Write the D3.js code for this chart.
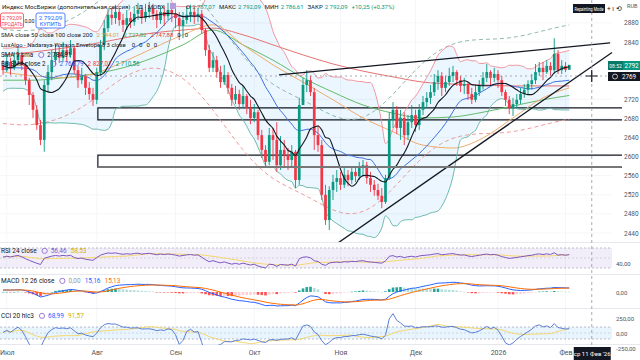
<!DOCTYPE html>
<html><head><meta charset="utf-8">
<script src="https://cdn.jsdelivr.net/npm/d3@7"></script>
<style>html,body{margin:0;padding:0;background:#fff;overflow:hidden}svg{display:block;font-family:Roboto,"Noto Sans",sans-serif}</style>
</head><body><svg id="c" width="640" height="360"></svg>
<script>
// ---------- DATA ----------
const warmupCloses = [2760,2740,2755,2730,2715,2740,2765,2750,2735,2725,
2720,2745,2770,2790,2810,2800,2775,2750,2735,2760,2785,2805,2820,2800,2780,2760,2775,2795,2810,2790];
const firstOpen = 2790;
const closes = [2781,2798,2786,2802,2813,2792,2760,2729,2698,2666,
2635,2750,2777,2802,2819,2807,2823,2813,2827,2781,
2760,2769,2744,2731,2719,2777,2834,2869,2897,2890,
2903,2886,2876,2890,2882,2899,2907,2890,2903,2911,
2899,2886,2903,2894,2907,2899,2890,2874,2886,2897,
2903,2894,2899,2865,2823,2786,2802,2777,2756,2771,
2744,2719,2731,2710,2727,2702,2681,2693,2645,2614,
2589,2645,2635,2582,2614,2603,2593,2610,2551,2708,
2750,2760,2735,2645,2624,2520,2467,2530,2547,2555,
2541,2562,2551,2568,2559,2576,2582,2555,2541,2530,
2518,2505,2555,2677,2698,2660,2681,2645,2672,2687,
2666,2698,2714,2723,2735,2756,2769,2744,2756,2769,
2777,2760,2748,2752,2731,2719,2735,2748,2765,2777,
2765,2773,2760,2735,2719,2702,2710,2719,2731,2740,
2752,2760,2777,2786,2777,2790,2781,2815,2781,2790,
2781.84,2792.09];
const highs = [2802,2813,2807,2819,2827,2819,2798,2765,2735,2708,
2677,2760,2792,2823,2836,2832,2840,2834,2844,2832,
2790,2786,2773,2756,2744,2786,2844,2886,2911,2911,
2918,2911,2899,2907,2903,2915,2922,2915,2920,2924,
2920,2907,2915,2915,2922,2918,2911,2903,2903,2915,
2918,2915,2911,2907,2869,2834,2819,2811,2790,2792,
2777,2752,2748,2740,2748,2731,2719,2710,2698,2656,
2624,2660,2660,2672,2643,2635,2618,2624,2614,2723,
2765,2781,2769,2744,2666,2635,2541,2538,2562,2572,
2568,2576,2572,2576,2576,2589,2593,2589,2568,2551,
2543,2534,2562,2693,2714,2706,2698,2693,2687,2708,
2698,2710,2727,2735,2750,2773,2781,2777,2769,2786,
2790,2781,2769,2765,2756,2744,2748,2760,2777,2794,
2781,2786,2781,2769,2740,2727,2723,2731,2744,2752,
2760,2773,2794,2798,2798,2802,2798,2848,2823,2802,
2798,2792.09];
const lows = [2771,2777,2771,2781,2792,2781,2750,2708,2681,2656,
2624,2610,2735,2760,2792,2796,2798,2798,2807,2773,
2744,2752,2729,2719,2706,2710,2769,2823,2861,2876,
2878,2874,2861,2865,2869,2874,2886,2878,2882,2890,
2886,2869,2878,2874,2886,2882,2869,2844,2848,2878,
2882,2878,2882,2857,2811,2777,2777,2765,2744,2750,
2731,2706,2710,2698,2702,2689,2668,2672,2635,2597,
2576,2582,2593,2568,2572,2576,2572,2580,2534,2541,
2708,2735,2727,2614,2610,2509,2457,2446,2509,2526,
2530,2534,2538,2543,2547,2551,2559,2543,2526,2518,
2509,2492,2501,2551,2660,2647,2635,2624,2635,2660,
2652,2656,2687,2702,2710,2727,2740,2727,2735,2748,
2756,2748,2735,2731,2719,2710,2714,2727,2740,2756,
2748,2756,2744,2727,2706,2689,2685,2702,2710,2723,
2731,2740,2752,2769,2760,2773,2769,2773,2773,2773,
2777,2786.61];

// long moving averages (sampled at bar indices)
const maIdx = [0,8,16,24,32,40,48,56,64,72,80,88,96,104,112,120,128,136,144,151];
const ma50  = [2777,2769,2765,2773,2798,2827,2855,2876,2834,2792,2756,2719,2681,2652,2624,2618,2639,2681,2723,2744];
const ma100 = [2760,2760,2765,2773,2786,2807,2834,2865,2834,2802,2765,2735,2708,2691,2681,2683,2693,2706,2719,2728];
const ma200 = [2813,2819,2827,2836,2848,2859,2865,2869,2855,2834,2813,2794,2779,2767,2756,2752,2750,2748,2748,2748];

const monthTicks  = [1,25,46,67,90,110,132,150];
const monthLabels = ["Июл","Авг","Сен","Окт","Ноя","Дек","2026","Фев"];
const priceTicks  = [2440,2480,2520,2560,2600,2640,2680,2720,2840,2880];
const zoneStart = 25.3;
const zones = [[2702,2677],[2603,2578]];
const trendUpper = [[73.6,2771],[161.9,2838]];
const trendLower = [[89.3,2419],[162.4,2818]];
const crossIdx = 157;
const crossPrice = 2768.79;

// ---------- SETUP ----------
const svg = d3.select("#c");
const n = closes.length;
const W = warmupCloses.length;
const allC = warmupCloses.concat(closes);
const opens = closes.map((c,i)=> i===0 ? firstOpen : closes[i-1]);
const xs = d3.scaleLinear().domain([0,160]).range([3,603]);
const ys = d3.scaleLinear().domain([2440,2840]).range([233,42]);
const FS = 7;
const UP = "#089981", DN = "#F23645";

const defs = svg.append("defs");
defs.append("clipPath").attr("id","mainClip").append("rect").attr("x",0).attr("y",0).attr("width",622).attr("height",242);
defs.append("clipPath").attr("id","rsiClip").append("rect").attr("x",0).attr("y",243).attr("width",612).attr("height",31);
defs.append("clipPath").attr("id","macdClip").append("rect").attr("x",0).attr("y",275).attr("width",612).attr("height",33);
defs.append("clipPath").attr("id","cciClip").append("rect").attr("x",0).attr("y",309).attr("width",612).attr("height",36);

// grid
const grid = svg.append("g");
grid.selectAll("line.v").data(monthTicks).enter().append("line")
  .attr("x1",d=>xs(d)).attr("x2",d=>xs(d)).attr("y1",0).attr("y2",345).attr("stroke","#f5f6f9");
grid.selectAll("line.h").data(priceTicks).enter().append("line")
  .attr("x1",0).attr("x2",612).attr("y1",d=>ys(d)).attr("y2",d=>ys(d)).attr("stroke","#f5f6f9");
[242.5,274.5,308.5,344.5].forEach(y=>svg.append("line").attr("x1",0).attr("x2",640).attr("y1",y).attr("y2",y).attr("stroke","#e6e8ee"));

// ---------- INDICATORS ----------
function smaAt(arr,len,j){ let s=0,c=0; for(let k=Math.max(0,j-len+1);k<=j;k++){s+=arr[k];c++;} return s/c; }
const sma9 = closes.map((_,i)=>smaAt(allC,9,W+i));
const bb = closes.map((_,i)=>{
  const j=W+i, m=smaAt(allC,20,j); let v=0;
  for(let k=j-19;k<=j;k++) v+=(allC[k]-m)**2;
  const sd=Math.sqrt(v/20); return {m, u:m+2*sd, l:m-2*sd};
});
const nwe = closes.map((_,i)=>{ let s=0,sw=0; for(let j=0;j<n;j++){const w=Math.exp(-((i-j)**2)/(2*64)); s+=closes[j]*w; sw+=w;} return s/sw; });
let mae=0; closes.forEach((c,i)=>mae+=Math.abs(c-nwe[i])); mae = mae/n*3;

function rsiSeries(arr,len){
  const out=new Array(arr.length).fill(null); let ag=0,al=0;
  for(let k=1;k<arr.length;k++){
    const ch=arr[k]-arr[k-1], g=Math.max(ch,0), l=Math.max(-ch,0);
    if(k<=len){ ag+=g/len; al+=l/len; if(k===len) out[k]=100-100/(1+ag/(al||1e-9)); }
    else { ag=(ag*(len-1)+g)/len; al=(al*(len-1)+l)/len; out[k]=100-100/(1+ag/(al||1e-9)); }
  }
  return out;
}
const rsiAll = rsiSeries(allC,24);
const rsi = closes.map((_,i)=>rsiAll[W+i]);
const rsiMa = rsi.map((_,i)=>d3.mean(rsi.slice(Math.max(0,i-13),i+1)));
function ema(arr,len){ const k=2/(len+1); const o=[]; arr.forEach((v,i)=>o.push(i===0?v:v*k+o[i-1]*(1-k))); return o; }
const e12=ema(allC,12), e26=ema(allC,26);
const macdAll=e12.map((v,i)=>v-e26[i]); const sigAll=ema(macdAll,9);
const macd=closes.map((_,i)=>macdAll[W+i]), sig=closes.map((_,i)=>sigAll[W+i]);
const hist=macd.map((v,i)=>v-sig[i]);
const tpAll = warmupCloses.concat(closes.map((c,i)=>(highs[i]+lows[i]+c)/3));
const cci = closes.map((_,i)=>{ const j=W+i; const m=smaAt(tpAll,20,j); let md=0; for(let k=j-19;k<=j;k++) md+=Math.abs(tpAll[k]-m); md/=20; return (tpAll[j]-m)/(0.015*md); });
const cciMa = cci.map((_,i)=>d3.mean(cci.slice(Math.max(0,i-13),i+1)));

// ---------- MAIN PANE ----------
const main = svg.append("g").attr("clip-path","url(#mainClip)");
main.append("path").datum(bb).attr("fill","rgba(33,150,243,0.09)")
  .attr("d",d3.area().x((d,i)=>xs(i)).y0(d=>ys(d.l)).y1(d=>ys(d.u)).curve(d3.curveMonotoneX));
zones.forEach(z=>{
  const x0=xs(zoneStart);
  main.append("path").attr("fill","none").attr("stroke","#131722").attr("stroke-width",1.2)
    .attr("d",`M622,${ys(z[0])}H${x0}V${ys(z[1])}H622`);
});
svg.append("line").attr("x1",xs(zoneStart)).attr("x2",621).attr("y1",ys(zones[1][1])).attr("y2",ys(zones[1][1])).attr("stroke","#777").attr("stroke-width",2);
const lineI = (acc)=>d3.line().x((d,i)=>xs(i)).y(d=>ys(acc(d))).curve(d3.curveMonotoneX);
main.append("path").datum(nwe).attr("fill","none").attr("stroke","#8fb9a8").attr("stroke-width",1).attr("stroke-dasharray","4,3").attr("d",lineI(d=>d+mae));
main.append("path").datum(nwe).attr("fill","none").attr("stroke","#ef9a9a").attr("stroke-width",1).attr("stroke-dasharray","4,3").attr("d",lineI(d=>d-mae));
const sampled = (arr)=>arr.map((v,k)=>[maIdx[k],v]);
const lineS = d3.line().x(d=>xs(d[0])).y(d=>ys(d[1])).curve(d3.curveMonotoneX);
main.append("path").datum(sampled(ma200)).attr("fill","none").attr("stroke","#e57373").attr("stroke-width",1).attr("d",lineS);
main.append("path").datum(sampled(ma100)).attr("fill","none").attr("stroke","#66bb6a").attr("stroke-width",1).attr("d",lineS);
main.append("path").datum(sampled(ma50)).attr("fill","none").attr("stroke","#f0ad6e").attr("stroke-width",1).attr("d",lineS);
main.append("path").datum(bb).attr("fill","none").attr("stroke","#f28b96").attr("stroke-width",0.9).attr("d",lineI(d=>d.u));
main.append("path").datum(bb).attr("fill","none").attr("stroke","#5fb3a3").attr("stroke-width",0.9).attr("d",lineI(d=>d.l));
main.append("path").datum(bb).attr("fill","none").attr("stroke","#3f6fe0").attr("stroke-width",1).attr("d",lineI(d=>d.m));
const cg = main.append("g");
closes.forEach((c,i)=>{
  const o=opens[i], h=Math.max(highs[i],o,c), l=Math.min(lows[i],o,c), col=c>=o?UP:DN, x=xs(i);
  cg.append("line").attr("x1",x).attr("x2",x).attr("y1",ys(h)).attr("y2",ys(l)).attr("stroke",col).attr("stroke-width",0.9);
  const yt=ys(Math.max(o,c)), yb=ys(Math.min(o,c));
  cg.append("rect").attr("x",x-1.35).attr("width",2.7).attr("y",yt).attr("height",Math.max(0.8,yb-yt)).attr("fill",col);
});
main.append("path").datum(sma9).attr("fill","none").attr("stroke","#131722").attr("stroke-width",1.1).attr("d",lineI(d=>d));
[trendUpper,trendLower].forEach(t=>{
  main.append("line").attr("x1",xs(t[0][0])).attr("y1",ys(t[0][1])).attr("x2",xs(t[1][0])).attr("y2",ys(t[1][1]))
    .attr("stroke","#131722").attr("stroke-width",1.3);
});

// crosshair
svg.append("line").attr("x1",xs(crossIdx)).attr("x2",xs(crossIdx)).attr("y1",0).attr("y2",346).attr("stroke","#9598a1").attr("stroke-dasharray","3,3").attr("stroke-width",0.8);
svg.append("line").attr("x1",0).attr("x2",608).attr("y1",ys(crossPrice)).attr("y2",ys(crossPrice)).attr("stroke","#9598a1").attr("stroke-dasharray","2,3").attr("stroke-width",0.8);
svg.append("path").attr("d",`M${xs(crossIdx)-6},${ys(crossPrice)}h12M${xs(crossIdx)},${ys(crossPrice)-6}v12`).attr("stroke","#131722").attr("stroke-width",1.2);

// price axis
const pa = svg.append("g").attr("transform","translate(621,0)")
  .call(d3.axisRight(ys).tickValues(priceTicks).tickSize(0).tickPadding(3).tickFormat(d=>d));
pa.select(".domain").remove();
pa.selectAll("text").attr("font-size",6.5).attr("fill","#50535e").attr("font-family","Roboto");
svg.append("text").attr("x",627).attr("y",8).attr("font-size",5.5).attr("fill","#50535e").text("RUB");

// price tags
svg.append("rect").attr("x",608).attr("y",61).attr("width",32).attr("height",9).attr("fill","#089981");
svg.append("rect").attr("x",608).attr("y",61).attr("width",15).attr("height",9).attr("fill","#067a66");
svg.append("text").attr("x",609.3).attr("y",67.5).attr("font-size",5).attr("fill","#fff").text("08:52");
svg.append("text").attr("x",624.5).attr("y",68).attr("font-size",6.3).attr("fill","#fff").text(d3.format(".0f")(closes[n-1]));
svg.append("rect").attr("x",608).attr("y",72).attr("width",32).attr("height",9).attr("fill","#131722");
svg.append("circle").attr("cx",615).attr("cy",76.5).attr("r",2.5).attr("fill","none").attr("stroke","#fff").attr("stroke-width",0.7);
svg.append("text").attr("x",622).attr("y",79).attr("font-size",6.3).attr("fill","#fff").text(d3.format(".0f")(crossPrice));

// Repainting mode label
svg.append("rect").attr("x",573).attr("y",4).attr("width",32).attr("height",9).attr("fill","#131722");
svg.append("text").attr("x",574.5).attr("y",10.5).attr("font-size",4.6).attr("fill","#fff")
  .attr("textLength",29).attr("lengthAdjust","spacingAndGlyphs").text("Repainting Mode");
svg.append("text").attr("x",607).attr("y",11).attr("font-size",6.5).attr("fill","#131722").text("+ ı ⟲");

// ---------- LEGENDS ----------
function legendRow(y, parts, x0, fs){
  fs = fs||FS; let x = x0;
  parts.forEach(p=>{
    if(p.icon){ svg.append("circle").attr("cx",x+3).attr("cy",y-fs*0.33).attr("r",2.6).attr("fill","none").attr("stroke","#8e6cd6").attr("stroke-width",0.9); x+=9; return; }
    const t = svg.append("text").attr("x",x).attr("y",y).attr("font-size",fs).attr("fill",p.c||"#131722").text(p.t);
    x += t.node().getComputedTextLength() + (p.gap!=null?p.gap:4);
  });
}
const ttl = svg.append("text").attr("x",2).attr("y",8.5).attr("font-size",FS).attr("fill","#131722").text("Индекс МосБиржи (дополнительная сессия) · 1Д · MOEX");
const tw = ttl.node().getComputedTextLength(); ttl.attr("font-size", FS*163/tw);
svg.append("rect").attr("x",170).attr("y",3).attr("width",6).attr("height",6).attr("fill","#b39ddb");
legendRow(8.5,[{t:"О",gap:2},{t:"2 787,07",c:UP},{t:"МАКС",gap:2},{t:"2 792,09",c:UP},{t:"МИН",gap:2},{t:"2 786,61",c:UP},{t:"ЗАКР",gap:2},{t:"2 792,09",c:UP},{t:"+10,25 (+0,37%)",c:UP}],186,6);
svg.append("rect").attr("x",0.5).attr("y",13).attr("width",23).attr("height",15).attr("rx",2).attr("fill","#fff").attr("stroke",DN).attr("stroke-width",0.8);
svg.append("text").attr("x",12).attr("y",19.5).attr("text-anchor","middle").attr("font-size",5.2).attr("fill",DN).text("2 792,09");
svg.append("text").attr("x",12).attr("y",26).attr("text-anchor","middle").attr("font-size",4.6).attr("fill",DN).text("ПРОДАТЬ");
svg.append("text").attr("x",29.5).attr("y",23).attr("text-anchor","middle").attr("font-size",5.2).attr("fill","#131722").text("0,00");
svg.append("rect").attr("x",36).attr("y",13).attr("width",29).attr("height",15).attr("rx",2).attr("fill","#fff").attr("stroke","#2962FF").attr("stroke-width",0.8);
svg.append("text").attr("x",50.5).attr("y",19.5).attr("text-anchor","middle").attr("font-size",6.2).attr("fill","#2962FF").text("2 792,09");
svg.append("text").attr("x",50.5).attr("y",26).attr("text-anchor","middle").attr("font-size",5.5).attr("fill","#2962FF").text("КУПИТЬ");

legendRow(37,[{t:"SMA close 50 close 100 close 200",gap:4},{t:"2 744,01",c:"#e0a24a"},{t:"2 727,82",c:"#43a047"},{t:"2 747,88",c:"#e53935"},{t:"0"},{t:"0"}],1,6);
legendRow(47,[{t:"LuxAlgo - Nadaraya-Watson Envelope 8 3 close",gap:6},{t:"0"},{t:"0"},{t:"0"},{t:"0"}],1,6);
legendRow(57,[{t:"SMA 9 sma",gap:5},{icon:1},{t:"2 784,81"}],1,6.3);
legendRow(66,[{t:"BB SMA close 2",gap:5},{icon:1},{t:"2 768,79",c:"#2962FF"},{t:"2 827,01",c:DN},{t:"2 710,56",c:UP}],1,6.3);

// ---------- RSI ----------
const yR = v=>258-(v-50)*0.5;
const rsiG = svg.append("g").attr("clip-path","url(#rsiClip)");
rsiG.append("rect").attr("x",0).attr("width",612).attr("y",yR(70)).attr("height",yR(30)-yR(70)).attr("fill","rgba(126,87,194,0.1)");
[70,50,30].forEach(v=>rsiG.append("line").attr("x1",0).attr("x2",612).attr("y1",yR(v)).attr("y2",yR(v)).attr("stroke","#9598a1").attr("stroke-width",0.6).attr("stroke-dasharray","2,2").attr("opacity",v===50?0.5:1));
const lineP = (f)=>d3.line().defined(d=>d!=null).x((d,i)=>xs(i)).y(d=>f(d));
rsiG.append("path").datum(rsiMa).attr("fill","none").attr("stroke","#f5d76e").attr("stroke-width",1).attr("d",lineP(yR));
rsiG.append("path").datum(rsi).attr("fill","none").attr("stroke","#7E57C2").attr("stroke-width",1).attr("d",lineP(yR));
legendRow(253,[{t:"RSI 24 close",gap:5},{icon:1},{t:"56,46",c:"#7E57C2"},{t:"58,53",c:"#d4b100"}],1,6.5);
const SUBX = 616;
svg.append("text").attr("x",SUBX).attr("y",yR(40)+2.5).attr("font-size",6).attr("fill","#50535e").text("40,00");

// ---------- MACD ----------
const mMax = d3.max(macd.concat(sig,hist).map(Math.abs));
const yM = v=>292 - v*(14/mMax);
const macdG = svg.append("g").attr("clip-path","url(#macdClip)");
hist.forEach((h,i)=>{
  const prev = i>0?hist[i-1]:h;
  const col = h>=0 ? (h>=prev?"#26A69A":"#B2DFDB") : (h<prev?"#FF5252":"#FFCDD2");
  macdG.append("rect").attr("x",xs(i)-1.3).attr("width",2.6).attr("y",Math.min(yM(h),yM(0))).attr("height",Math.max(0.5,Math.abs(yM(h)-yM(0)))).attr("fill",col);
});
macdG.append("path").datum(macd).attr("fill","none").attr("stroke","#2962FF").attr("stroke-width",1).attr("d",lineP(yM));
macdG.append("path").datum(sig).attr("fill","none").attr("stroke","#FF6D00").attr("stroke-width",1).attr("d",lineP(yM));
legendRow(283,[{t:"MACD 12 26 close",gap:5},{icon:1},{t:"0,00",c:"#9598a1"},{t:"15,16",c:"#2962FF"},{t:"15,13",c:"#FF6D00"}],1,6.5);
svg.append("text").attr("x",SUBX).attr("y",yM(0)+2.5).attr("font-size",6).attr("fill","#50535e").text("0,00");

// ---------- CCI ----------
const yC = v=>333 - v*0.06;
const cciG = svg.append("g").attr("clip-path","url(#cciClip)");
cciG.append("rect").attr("x",0).attr("width",612).attr("y",yC(100)).attr("height",yC(-100)-yC(100)).attr("fill","rgba(33,150,243,0.1)");
[100,0,-100].forEach(v=>cciG.append("line").attr("x1",0).attr("x2",612).attr("y1",yC(v)).attr("y2",yC(v)).attr("stroke","#9598a1").attr("stroke-width",0.6).attr("stroke-dasharray","2,2").attr("opacity",v===0?0.5:1));
cciG.append("path").datum(cciMa).attr("fill","none").attr("stroke","#f5d76e").attr("stroke-width",1).attr("d",lineP(yC));
cciG.append("path").datum(cci).attr("fill","none").attr("stroke","#5b7fd6").attr("stroke-width",1).attr("d",lineP(yC));
legendRow(318,[{t:"CCI 20 hlc3",gap:5},{icon:1},{t:"68,99",c:"#2962FF"},{t:"91,57",c:"#d4b100"}],1,6.5);
[[250,"250,00"],[0,"0,00"],[-250,"-250,00"]].forEach(d=>svg.append("text").attr("x",SUBX).attr("y",yC(d[0])+2.5).attr("font-size",6).attr("fill","#50535e").text(d[1]));

// ---------- TIME AXIS ----------
const ta = svg.append("g").attr("transform","translate(0,347)")
  .call(d3.axisBottom(xs).tickValues(monthTicks).tickSize(0).tickPadding(3).tickFormat((d,k)=>monthLabels[k]));
ta.select(".domain").remove();
ta.selectAll("text").attr("font-size",FS).attr("fill","#50535e").attr("font-family","Roboto");
svg.append("rect").attr("x",xs(crossIdx)-18).attr("y",347).attr("width",37).attr("height",13).attr("fill","#131722");
svg.append("text").attr("x",xs(crossIdx)+0.5).attr("y",355.5).attr("text-anchor","middle").attr("font-size",6).attr("fill","#fff").text("ср 11 Фев '26");
</script></body></html>
